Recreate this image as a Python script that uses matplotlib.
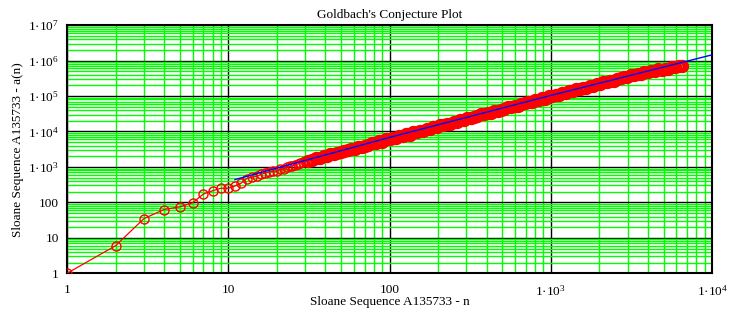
import numpy as np
import matplotlib
matplotlib.use("Agg")
import matplotlib.pyplot as plt
from matplotlib.ticker import LogLocator, FuncFormatter, NullFormatter

plt.rcParams['font.family'] = ['Liberation Serif', 'DejaVu Serif']
plt.rcParams['mathtext.fontset'] = 'custom'
plt.rcParams['mathtext.rm'] = 'Liberation Serif'
plt.rcParams['mathtext.default'] = 'regular'

# A135733 - valores (n, a(n))
seq_n = [1, 2, 3, 4, 5, 6, 7, 8, 9, 10, 11, 12, 13, 14, 15, 16, 17, 18, 19, 20,
         21, 22, 23, 24, 25, 26, 27, 28, 29, 30,
         31, 33, 35, 37, 39, 41, 43, 45, 47, 50, 52, 55, 58, 61, 64, 67, 70, 74, 78, 82,
         86, 90, 95, 100, 105, 110, 115, 121, 127, 133, 140, 147, 154, 162, 170, 178, 187, 196, 206, 216,
         227, 238, 250, 262, 275, 289, 303, 318, 334, 351, 368, 386, 405, 425, 446, 468, 491, 516, 542, 569,
         597, 627, 658, 691, 726, 762, 800, 840, 882, 926, 972, 1020, 1071, 1125, 1181, 1240, 1302, 1367, 1435, 1507,
         1582, 1661, 1744, 1831, 1923, 2019, 2120, 2226, 2337, 2454, 2577, 2706, 2841, 2983, 3132, 3289, 3453, 3626, 3807, 3997,
         4197, 4407, 4627, 4858, 5101, 5356, 5624, 5905, 6200, 6470]
seq_a = [1, 6, 35, 63, 75, 97, 172, 213, 250, 250, 290, 347, 470, 520, 540, 620, 680, 720, 760, 760,
         850, 900, 980, 1040, 1080, 1150, 1230, 1290, 1370, 1440,
         1500, 1560, 1790, 1820, 2020, 2000, 2320, 2330, 2480, 2560, 2880, 2930, 3250, 3220, 3730, 3760, 4000, 4100, 4690, 4740,
         5220, 5140, 6000, 6080, 6500, 6600, 7480, 7560, 8330, 8210, 9550, 9650, 10300, 10500, 11950, 12000, 13250, 13080, 15200, 15300,
         16400, 16700, 19000, 19100, 21100, 20800, 24100, 24400, 26100, 26600, 30200, 30400, 33500, 33100, 38400, 38700, 41400, 42200, 48000, 48400,
         53400, 52800, 61200, 61800, 66200, 67400, 76700, 77300, 85300, 84300, 97700, 98600, 105500, 107500, 122300, 123400, 136000, 134500, 155900, 157500,
         168600, 171600, 195200, 196900, 217300, 214700, 249100, 251500, 269300, 274100, 312000, 314700, 343700, 336100, 385900, 385700, 408600, 411500, 463300, 462100,
         504500, 493100, 565600, 558400, 590800, 594300, 668600, 657900, 717200, 694800]

# curva de ajuste (azul)
fit_n = [11, 100, 1000, 10000]
fit_a = [440, 6800, 104000, 1450000]

x_ticks = [1, 10, 100, 1000, 10000]
y_ticks = [1, 10, 100, 1000, 10000, 100000, 1000000, 10000000]


def pot10(v, pos):
    k = int(round(np.log10(v)))
    if k < 3:
        return str(int(round(v)))
    return "1·10$^{%d}$" % k


fig = plt.figure(figsize=(7.31, 3.14), dpi=100)
ax = fig.add_axes([0.0917, 0.1296, 0.8824, 0.7904])

# linha + marcadores; depois de n=30 os círculos se sobrepõem numa faixa
corte = seq_n.index(31)
ax.plot(seq_n, seq_a, color='red', lw=0.9, zorder=3)
ax.plot(seq_n[:corte], seq_a[:corte], ls='none', marker='o', ms=6.5, mfc='none',
        mec='red', mew=1.0, zorder=3)
ax.plot(seq_n[corte:], seq_a[corte:], ls='none', marker='o', ms=7, mfc='none',
        mec='red', mew=2.6, zorder=3)
ax.plot(fit_n, fit_a, color='blue', lw=1.0, zorder=4)

ax.set_xscale('log')
ax.set_yscale('log')
ax.set_xlim(1, 1e4)
ax.set_ylim(1, 1e7)
ax.set_xticks(x_ticks)
ax.set_yticks(y_ticks)
ax.xaxis.set_major_formatter(FuncFormatter(pot10))
ax.yaxis.set_major_formatter(FuncFormatter(pot10))
for axis in (ax.xaxis, ax.yaxis):
    axis.set_minor_locator(LogLocator(base=10, subs=np.arange(2, 10), numticks=20))
    axis.set_minor_formatter(NullFormatter())

ax.grid(True, which='minor', color='#00ff00', lw=1.0)
ax.grid(True, which='major', color='black', lw=1.0)
ax.set_axisbelow(True)
ax.tick_params(which='both', length=0, labelsize=9.5)
ax.tick_params(axis='x', pad=8)
ax.tick_params(axis='y', pad=6)
for sp in ax.spines.values():
    sp.set_linewidth(1.5)

ax.set_title("Goldbach's Conjecture Plot", fontsize=9.5, pad=5)
ax.set_xlabel("Sloane Sequence A135733 - n", fontsize=9.5, labelpad=-2)
ax.set_ylabel("Sloane Sequence A135733 - a(n)", fontsize=9.5, labelpad=3)

fig.savefig("out.png", dpi=100)
